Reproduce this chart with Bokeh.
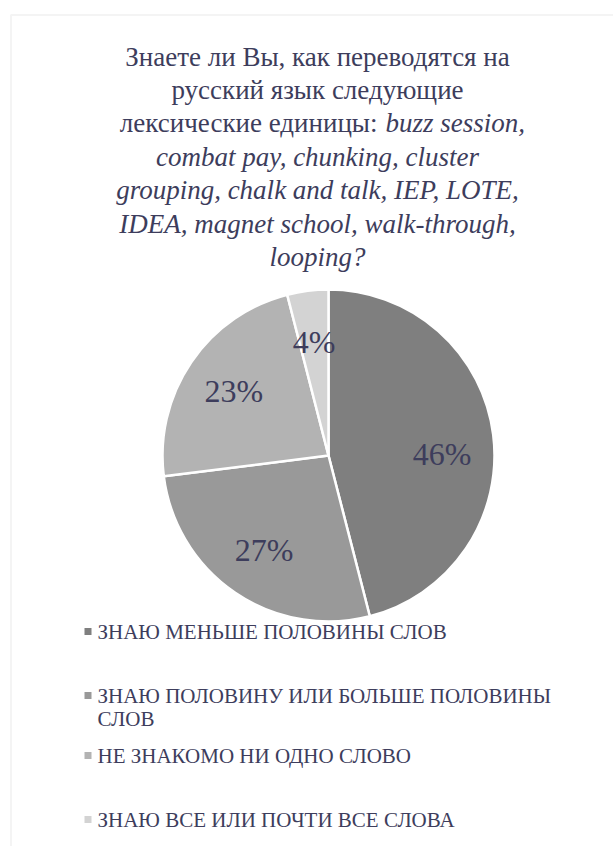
import math
from bokeh.plotting import figure
from bokeh.models import Range1d, BoxAnnotation
from bokeh.core.properties import value
from bokeh.embed import file_html
from bokeh.resources import INLINE

# ---------------- data ----------------
categories = [
    "ЗНАЮ МЕНЬШЕ ПОЛОВИНЫ СЛОВ",
    "ЗНАЮ ПОЛОВИНУ ИЛИ БОЛЬШЕ ПОЛОВИНЫ\nСЛОВ",
    "НЕ ЗНАКОМО НИ ОДНО СЛОВО",
    "ЗНАЮ ВСЕ ИЛИ ПОЧТИ ВСЕ СЛОВА",
]
shares = [46, 27, 23, 4]
slice_colors = ["#7f7f7f", "#999999", "#b3b3b3", "#d3d3d3"]

title_lines = [
    [("Знаете ли Вы, как переводятся на", "normal")],
    [("русский язык следующие", "normal")],
    [("лексические единицы:", "normal"), ("buzz session,", "italic")],
    [("combat pay, chunking, cluster", "italic")],
    [("grouping, chalk and talk, IEP, LOTE,", "italic")],
    [("IDEA, magnet school, walk-through,", "italic")],
    [("looping?", "italic")],
]

# ---------------- layout ----------------
W, H = 613, 846
FONT = "Liberation Serif"
TXT = "#3d3d5c"
BORDER = "#d9d9d9"

def sy(v):  # screen y (down) -> data y (up)
    return H - v

p = figure(width=W, height=H, output_backend="svg", toolbar_location=None,
           x_range=Range1d(0, W), y_range=Range1d(0, H),
           x_axis_location=None, y_axis_location=None, min_border=0)
p.grid.visible = False
p.outline_line_color = None

p.add_layout(BoxAnnotation(left=10.5, right=W + 50, top=sy(14.5), bottom=-50,
                           fill_color=None, line_color=BORDER, line_width=2))

def txt(x, y, s, size, style="normal", align="left"):
    p.text(x=[x], y=[y], text=[s], text_font=value(FONT), text_font_size=size,
           text_font_style=style, text_color=TXT, text_align=align,
           text_baseline="middle")

# ---- title ----
title_cx = 317
mid0, step = 56, 33.4
for i, parts in enumerate(title_lines):
    y = sy(mid0 + i * step)
    if len(parts) == 1:
        txt(title_cx, y, parts[0][0], "27px", parts[0][1], "center")
    else:
        (t1, s1), (t2, s2) = parts
        txt(377, y, t1, "27px", s1, "right")
        txt(385, y, t2, "27px", s2, "left")

# ---- pie ----
cx, cy, R = 328, sy(455), 166
total = float(sum(shares))
starts, ends, mids = [], [], []
cum = 0.0
for v in shares:
    a0 = math.pi / 2 - 2 * math.pi * cum / total
    cum += v
    a1 = math.pi / 2 - 2 * math.pi * cum / total
    starts.append(a0)
    ends.append(a1)
    mids.append((a0 + a1) / 2)

p.wedge(x=cx, y=cy, radius=R, start_angle=starts, end_angle=ends,
        direction="clock", fill_color=slice_colors, line_color="white", line_width=2.5)

lab_r = 0.69 * R
nudge_y = [-13, 0, 0, 0]
for v, m, n in zip(shares, mids, nudge_y):
    txt(cx + lab_r * math.cos(m), cy + lab_r * math.sin(m) + n, f"{v}%", "32px",
        "normal", "center")

# ---- legend ----
leg_rows = [631, 695, 755, 819]
leg_line_step = 23
p.scatter(x=[87.5] * len(categories), y=[sy(r) for r in leg_rows], marker="square",
          size=7, fill_color=slice_colors, line_color=None)
for r, lab in zip(leg_rows, categories):
    for k, line in enumerate(lab.split("\n")):
        txt(97, sy(r + k * leg_line_step), line, "21px")

open("out.html", "w").write(file_html(p, INLINE))
